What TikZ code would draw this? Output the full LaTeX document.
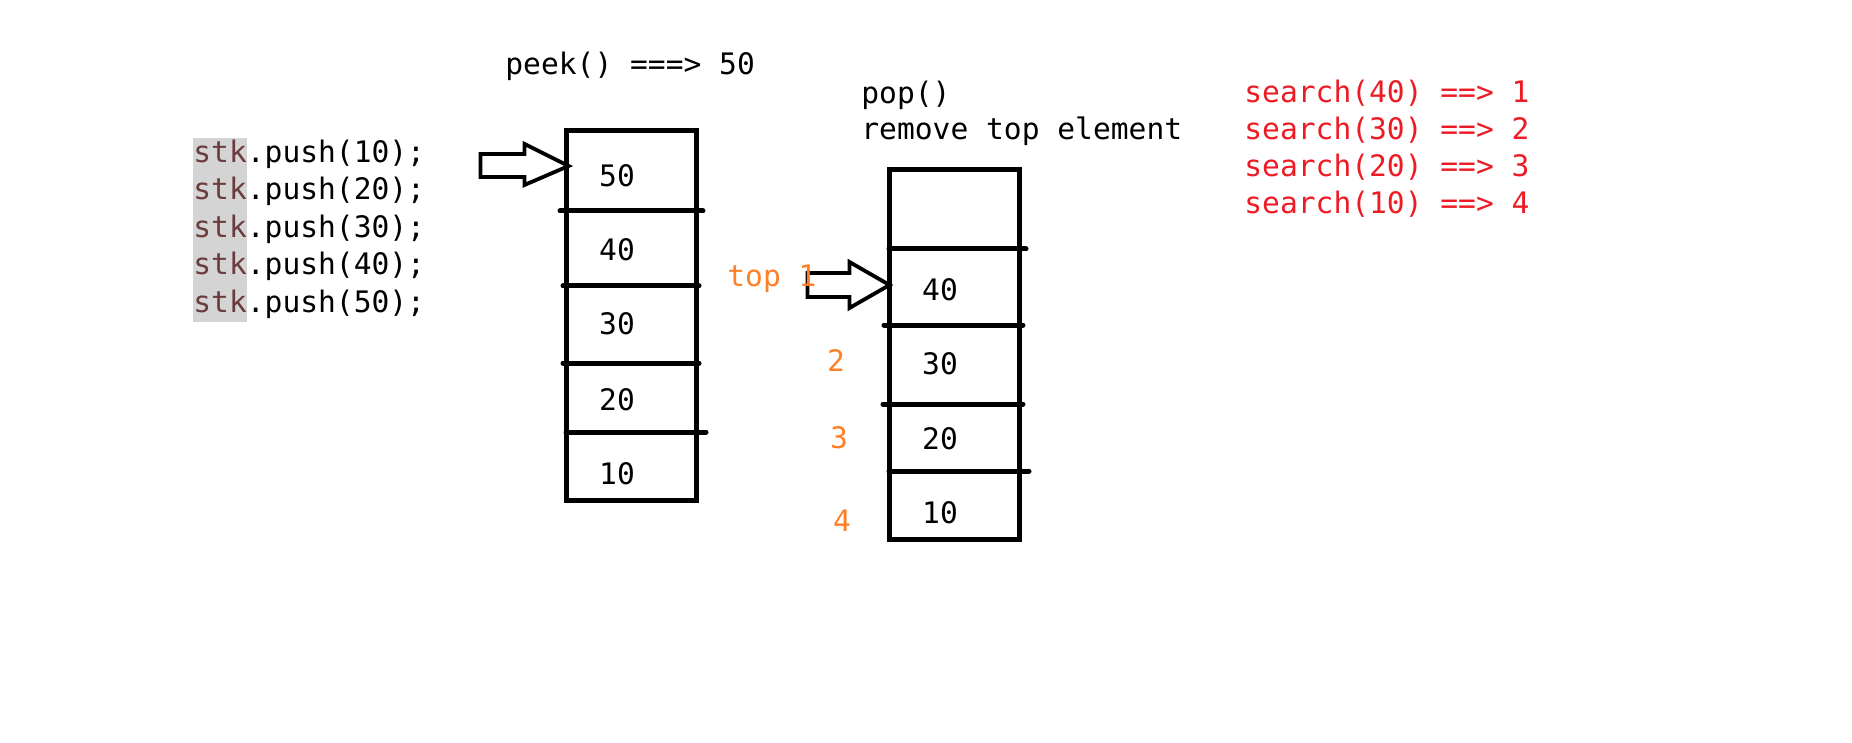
\documentclass[tikz,border=0pt]{standalone}
\usepackage{fontspec}
\setmonofont{DejaVu Sans Mono}
\usepackage{tikz}
\usepackage{xcolor}
\definecolor{stkbrown}{HTML}{6B3C3C}
\definecolor{hlgray}{HTML}{D4D4D4}
\definecolor{toporange}{HTML}{FF7F27}
\definecolor{searchred}{HTML}{ED1C24}
\tikzstyle{code} = [inner sep=0pt, anchor=west, font=\ttfamily\fontsize{14.8}{17}\selectfont]
\tikzstyle{frame} = [rectangle, draw, line width=2.5pt, inner sep=0pt]
\tikzstyle{cell} = [inner sep=0pt, font=\ttfamily\fontsize{14.8}{17}\selectfont]
\tikzstyle{hollow} = [draw, line width=1.9pt, fill=white, line join=miter]

\begin{document}
\begin{tikzpicture}[x=0.5pt,y=-0.5pt,line cap=round]
  \useasboundingbox (0,0) rectangle (1852,743);

  % push calls
  \fill[hlgray] (193,138) rectangle (247,322);
  \foreach \v [count=\i] in {10,20,30,40,50}
    \node[code] (push_\v) at (193,{154+37.5*(\i-1)}) {\textcolor{stkbrown}{stk}.push(\v);};

  % peek and pop notes
  \node[code] (peek) at (505,66) {peek() ===> 50};
  \node[code] (pop) at (861,95) {pop()};
  \node[code] (remove) at (861,131) {remove top element};
  \foreach \v/\p [count=\i] in {40/1,30/2,20/3,10/4}
    \node[code, text=searchred] (search_\v) at (1244,{93+37*(\i-1)}) {search(\v) ==> \p};

  % stack after push
  \node[frame, minimum width=65pt, minimum height=184.5pt] (stack_push) at (631,315.5) {};
  \draw[line width=2.5pt] (560,211) -- (703,211);
  \draw[line width=2.5pt] (563,286) -- (699,286);
  \draw[line width=2.5pt] (563,363) -- (699,363);
  \draw[line width=2.5pt] (566,432) -- (706,432);
  \node[cell] (P_50) at (617,176) {50};
  \node[cell] (P_40) at (617,250) {40};
  \node[cell] (P_30) at (617,324) {30};
  \node[cell] (P_20) at (617,400) {20};
  \node[cell] (P_10) at (617,474) {10};
  \coordinate (tip_push) at ([xshift=2.5pt]stack_push.west |- 0,166);
  \draw[hollow] (tip_push) -- ++(-44,-22) -- ++(0,10) -- ++(-44,0) -- ++(0,23)
    -- ++(44,0) -- ++(0,8) -- cycle;

  % stack after pop
  \node[frame, minimum width=65pt, minimum height=184.5pt] (stack_pop) at (954,354.5) {};
  \draw[line width=2.5pt] (889,249) -- (1026,249);
  \draw[line width=2.5pt] (884,325) -- (1023,325);
  \draw[line width=2.5pt] (883,404) -- (1023,404);
  \draw[line width=2.5pt] (889,471) -- (1029,471);
  \node[cell] (Q_40) at (940,290) {40};
  \node[cell] (Q_30) at (940,364) {30};
  \node[cell] (Q_20) at (940,439) {20};
  \node[cell] (Q_10) at (940,513) {10};
  \coordinate (tip_pop) at ([xshift=1.5pt]stack_pop.west |- 0,285);
  \draw[hollow] (tip_pop) -- ++(-40,-23) -- ++(0,11) -- ++(-42,0) -- ++(0,24)
    -- ++(42,0) -- ++(0,11) -- cycle;
  \node[text=toporange, code] (top_label) at (727,279) {top 1};
  \node[cell, text=toporange] (pos_2) at (836,361) {2};
  \node[cell, text=toporange] (pos_3) at (839,438) {3};
  \node[cell, text=toporange] (pos_4) at (842,521) {4};
\end{tikzpicture}
\end{document}
